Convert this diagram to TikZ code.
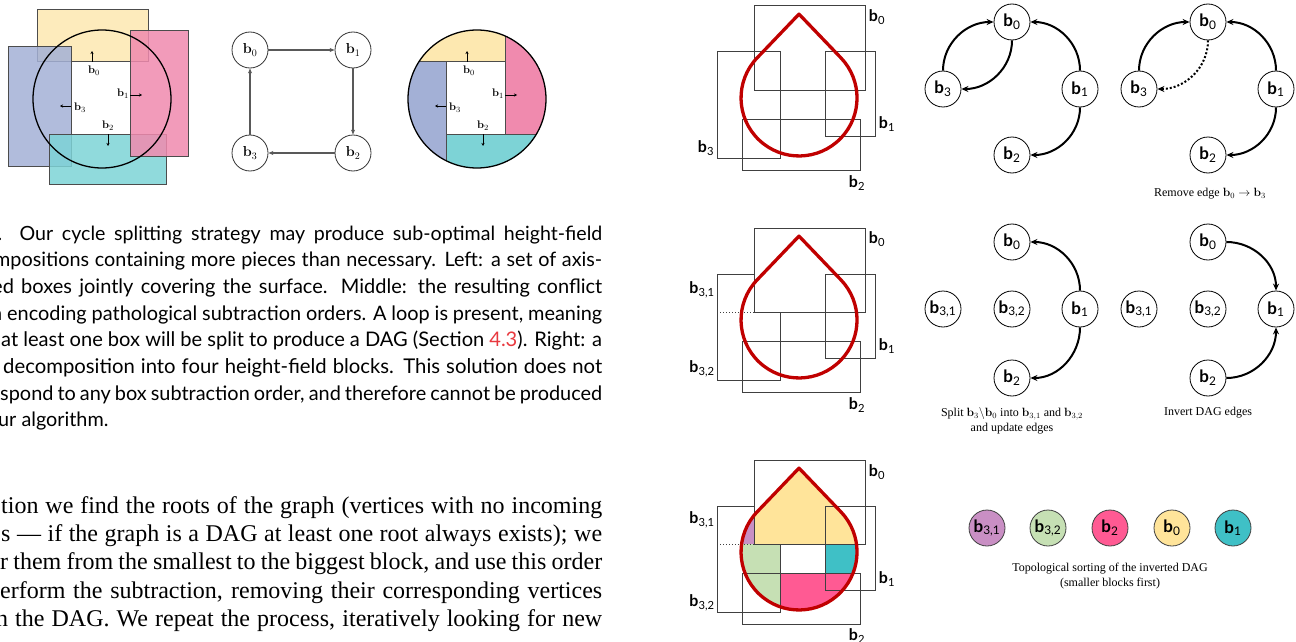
\documentclass[tikz,border=0pt]{standalone}
\usepackage[no-math]{fontspec}
\setmainfont{Liberation Serif}
\setsansfont{Lato}
\usetikzlibrary{arrows.meta,positioning}
\definecolor{boxyellow}{HTML}{FDE8B0}
\definecolor{boxpink}{HTML}{F08AAE}
\definecolor{boxblue}{HTML}{A3B0D6}
\definecolor{boxcyan}{HTML}{7DD3D6}
\definecolor{dropred}{HTML}{C00000}
\definecolor{linkred}{HTML}{E8393F}
\definecolor{blkpurple}{HTML}{C98FC4}
\definecolor{blkgreen}{HTML}{C6E0B4}
\definecolor{blkpink}{HTML}{FF5A93}
\definecolor{blkyellow}{HTML}{FFE49A}
\definecolor{blkteal}{HTML}{3FC0C6}

% one justified line of text
\newcommand{\jline}[2]{\makebox[#1pt][s]{#2}}
\newcommand{\bb}[1]{\textbf{b}\textsubscript{#1}}
\newcommand{\droppath}{(799,14.1) -- (757.1,57.9) arc[start angle=136.3, end angle=403.7, radius=58pt] -- cycle}

\tikzset{
  capline/.style={anchor=base west, inner sep=0pt, font=\sffamily\fontsize{#1}{22}\selectfont},
  capline/.default=19.5,
  bodyline/.style={anchor=base west, inner sep=0pt, font=\fontsize{24}{26}\selectfont},
  cmlabel/.style={font=\fontsize{11}{12}\selectfont, inner sep=1pt},
  tinyarrow/.style={-{Stealth[length=3pt,width=3pt]}, line width=0.8pt},
  lbox/.style={draw=black!70, line width=1pt, fill opacity=0.85},
  conflict/.style={circle, draw=black!80, line width=0.8pt, minimum size=36pt, inner sep=0pt, font=\fontsize{14}{16}\selectfont},
  conflictedge/.style={draw=black!65, line width=1.3pt, -{Stealth[length=5pt,width=4pt]}},
  dagnode/.style={circle, draw=black, line width=0.8pt, minimum size=36pt, inner sep=0pt, font=\sffamily\fontsize{17}{20}\selectfont},
  dagedge/.style={line width=2pt, -{Stealth[length=7pt,width=6pt]}},
  boxline/.style={draw=black!75, line width=1pt},
  drop/.style={draw=dropred, line width=3.3pt, line join=round},
  panlabel/.style={font=\sffamily\fontsize{16}{18}\selectfont, inner sep=0pt},
  subcap/.style={font=\fontsize{12}{15}\selectfont, align=center}
}

\begin{document}
\begin{tikzpicture}[x=1pt,y=-1pt]
\useasboundingbox (0,0) rectangle (1296,642);
\clip (0,0) rectangle (1296,642);

% left: boxes covering the circle
\filldraw[lbox, fill=boxyellow] (37,10) rectangle (148,62);
\filldraw[lbox, fill=boxblue] (8,47) rectangle (71,166);
\filldraw[lbox, fill=boxcyan] (49,134) rectangle (166,184);
\filldraw[lbox, fill=boxpink] (130,31) rectangle (188,156);
\draw[line width=1.3pt] (102,99) circle[radius=69pt];
\draw[tinyarrow] (92,62) -- (92,51);
\draw[tinyarrow] (130,95) -- (142,95);
\draw[tinyarrow] (108,134) -- (108,146);
\draw[tinyarrow] (71,106) -- (60,106);
\node[cmlabel] (l0) at (94,71) {$\mathbf{b}_0$};
\node[cmlabel] (l1) at (123,94) {$\mathbf{b}_1$};
\node[cmlabel] (l2) at (108,126) {$\mathbf{b}_2$};
\node[cmlabel] (l3) at (80,108) {$\mathbf{b}_3$};

% conflict graph
\node[conflict] (c0) at (250,50) {$\mathbf{b}_0$};
\node[conflict] (c1) at (353,50) {$\mathbf{b}_1$};
\node[conflict] (c2) at (353,153) {$\mathbf{b}_2$};
\node[conflict] (c3) at (250,153) {$\mathbf{b}_3$};
\draw[conflictedge] (c0) -- (c1);
\draw[conflictedge] (c1) -- (c2);
\draw[conflictedge] (c2) -- (c3);
\draw[conflictedge] (c3) -- (c0);

% height-field blocks
\begin{scope}
  \clip (477,99) circle[radius=69pt];
  \fill[boxyellow] (400,20) rectangle (505,62);
  \fill[boxpink] (505,20) rectangle (560,134);
  \fill[boxcyan] (446,134) rectangle (560,180);
  \fill[boxblue] (400,62) rectangle (446,180);
  \draw[black!70, line width=1pt] (400,62) -- (505,62) (505,20) -- (505,134)
    (446,134) -- (560,134) (446,62) -- (446,180);
\end{scope}
\draw[line width=1.3pt] (477,99) circle[radius=69pt];
\draw[tinyarrow] (467,62) -- (467,51);
\draw[tinyarrow] (505,95) -- (517,95);
\draw[tinyarrow] (483,134) -- (483,146);
\draw[tinyarrow] (446,106) -- (435,106);
\node[cmlabel] (h0) at (469,71) {$\mathbf{b}_0$};
\node[cmlabel] (h1) at (498,94) {$\mathbf{b}_1$};
\node[cmlabel] (h2) at (483,126) {$\mathbf{b}_2$};
\node[cmlabel] (h3) at (455,108) {$\mathbf{b}_3$};

% caption
\node[capline=19.6] (cap1) at (-14,240) {\jline{616}{3.\ \ Our cycle splitting strategy may produce sub-optimal height-field}};
\node[capline=19.8] (cap2) at (-6,266.7) {\jline{608}{mpositions containing more pieces than necessary. Left: a set of axis-}};
\node[capline=20.0] (cap3) at (-8,293.4) {\jline{610}{ed boxes jointly covering the surface. Middle: the resulting conflict}};
\node[capline=19.9] (cap4) at (-9,320.1) {\jline{611}{n encoding pathological subtraction orders. A loop is present, meaning}};
\node[capline=20.1] (cap5) at (1,346.8) {\jline{601}{at least one box will be split to produce a DAG (Section \textcolor{linkred}{4.3}). Right: a}};
\node[capline=20.3] (cap6) at (3,373.5) {\jline{599}{decomposition into four height-field blocks. This solution does not}};
\node[capline=19.9] (cap7) at (0,400.2) {\jline{602}{spond to any box subtraction order, and therefore cannot be produced}};
\node[capline=19.8] (cap8) at (-2,426.9) {ur algorithm.};

% body text
\node[bodyline] (txt1) at (1,513) {\jline{601}{tion we find the roots of the graph (vertices with no incoming}};
\node[bodyline] (txt2) at (1,541.4) {\jline{601}{s --- if the graph is a DAG at least one root always exists); we}};
\node[bodyline] (txt3) at (0,569.8) {\jline{602}{r them from the smallest to the biggest block, and use this order}};
\node[bodyline] (txt4) at (0,598.2) {\jline{602}{erform the subtraction, removing their corresponding vertices}};
\node[bodyline] (txt5) at (-4,626.6) {\jline{606}{n the DAG. We repeat the process, iteratively looking for new}};

% right, row 1: boxes and drop
\draw[boxline] (717,52) rectangle (780,158);
\draw[boxline] (742,119) rectangle (860,170);
\draw[boxline] (825,52) rectangle (875,136);
\draw[boxline] (754,6) rectangle (865,90);
\draw[drop] \droppath;
\node[panlabel] (p0) at (877,17) {\bb{0}};
\node[panlabel] (p1) at (887,124) {\bb{1}};
\node[panlabel] (p2) at (857,183) {\bb{2}};
\node[panlabel] (p3) at (706,148) {\bb{3}};

% row 1 graphs
\node[dagnode] (a0) at (1012,22) {\bb{0}};
\node[dagnode] (a1) at (1080,89) {\bb{1}};
\node[dagnode] (a2) at (1012,155) {\bb{2}};
\node[dagnode] (a3) at (943,89) {\bb{3}};
\draw[dagedge] (a3.north) to[out=90,in=180] (a0.west);
\draw[dagedge] (a0.south) to[out=-90,in=0] (a3.east);
\draw[dagedge] (a1.north) to[out=90,in=0] (a0.east);
\draw[dagedge] (a1.south) to[out=-90,in=0] (a2.east);

\node[dagnode] (b0) at (1208,22) {\bb{0}};
\node[dagnode] (b1) at (1276,89) {\bb{1}};
\node[dagnode] (b2) at (1208,155) {\bb{2}};
\node[dagnode] (b3) at (1139,89) {\bb{3}};
\draw[dagedge] (b3.north) to[out=90,in=180] (b0.west);
\draw[dagedge, dash pattern=on 2pt off 2pt] (b0.south) to[out=-90,in=0] (b3.east);
\draw[dagedge] (b1.north) to[out=90,in=0] (b0.east);
\draw[dagedge] (b1.south) to[out=-90,in=0] (b2.east);
\node[subcap] (rm) at (1210,194) {Remove edge $\mathbf{b}_0\rightarrow\mathbf{b}_3$};

% right, row 2: split b3
\begin{scope}[shift={(0,222)}]
  \draw[boxline] (754,52) -- (717,52) -- (717,90) (754,90) -- (780,90) -- (780,158) -- (717,158) -- (717,90);
  \draw[boxline, dotted] (717,90) -- (754,90);
  \draw[boxline] (742,119) rectangle (860,170);
  \draw[boxline] (825,52) rectangle (875,136);
  \draw[boxline] (754,6) rectangle (865,90);
  \draw[drop] \droppath;
  \node[panlabel] (q0) at (877,17) {\bb{0}};
  \node[panlabel] (q1) at (887,124) {\bb{1}};
  \node[panlabel] (q2) at (857,183) {\bb{2}};
  \node[panlabel] (q31) at (702,68) {\bb{3,1}};
  \node[panlabel] (q32) at (702,147) {\bb{3,2}};
\end{scope}

\node[dagnode] (e0) at (1012,242) {\bb{0}};
\node[dagnode] (e31) at (943,309) {\bb{3,1}};
\node[dagnode] (e32) at (1012,309) {\bb{3,2}};
\node[dagnode] (e1) at (1080,309) {\bb{1}};
\node[dagnode] (e2) at (1012,378) {\bb{2}};
\draw[dagedge] (e1.north) to[out=90,in=0] (e0.east);
\draw[dagedge] (e1.south) to[out=-90,in=0] (e2.east);
\node[subcap] (split) at (1012,421) {Split $\mathbf{b}_3\backslash\mathbf{b}_0$ into $\mathbf{b}_{3,1}$ and $\mathbf{b}_{3,2}$\\and update edges};

\node[dagnode] (f0) at (1208,242) {\bb{0}};
\node[dagnode] (f31) at (1139,309) {\bb{3,1}};
\node[dagnode] (f32) at (1208,309) {\bb{3,2}};
\node[dagnode] (f1) at (1276,309) {\bb{1}};
\node[dagnode] (f2) at (1208,378) {\bb{2}};
\draw[dagedge] (f0.east) to[out=0,in=90] (f1.north);
\draw[dagedge] (f2.east) to[out=0,in=-90] (f1.south);
\node[subcap] (inv) at (1208,413) {Invert DAG edges};

% right, row 3: subtraction result
\begin{scope}[shift={(0,454)}]
  \begin{scope}
    \clip \droppath;
    \fill[blkpurple] (700,0) rectangle (754,90);
    \fill[blkyellow] (754,0) rectangle (900,90);
    \fill[blkgreen] (700,90) rectangle (780,200);
    \fill[blkteal] (825,90) rectangle (900,119);
    \fill[blkpink] (780,119) rectangle (900,200);
  \end{scope}
  \draw[boxline] (754,52) -- (717,52) -- (717,90) (754,90) -- (780,90) -- (780,158) -- (717,158) -- (717,90);
  \draw[boxline, dotted] (717,90) -- (754,90);
  \draw[boxline] (742,119) rectangle (860,170);
  \draw[boxline] (825,52) rectangle (875,136);
  \draw[boxline] (754,6) rectangle (865,90);
  \draw[drop] \droppath;
  \node[panlabel] (r0) at (877,18) {\bb{0}};
  \node[panlabel] (r1) at (887,125) {\bb{1}};
  \node[panlabel] (r2) at (857,182) {\bb{2}};
  \node[panlabel] (r31) at (702,66) {\bb{3,1}};
  \node[panlabel] (r32) at (702,149) {\bb{3,2}};
\end{scope}

\node[dagnode, draw=black!75, fill=blkpurple] (g31) at (987,528) {\bb{3,1}};
\node[dagnode, draw=black!75, fill=blkgreen] (g32) at (1048,528) {\bb{3,2}};
\node[dagnode, draw=black!75, fill=blkpink] (g2) at (1110,528) {\bb{2}};
\node[dagnode, draw=black!75, fill=blkyellow] (g0) at (1172,528) {\bb{0}};
\node[dagnode, draw=black!75, fill=blkteal] (g1) at (1233,528) {\bb{1}};
\node[subcap] (topo) at (1110,576) {Topological sorting of the inverted DAG\\(smaller blocks first)};
\end{tikzpicture}
\end{document}
